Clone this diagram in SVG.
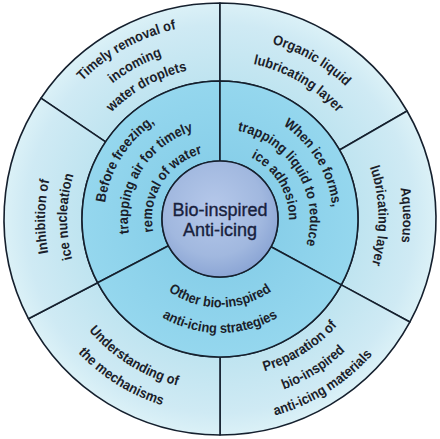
<svg xmlns="http://www.w3.org/2000/svg" width="440" height="439" viewBox="0 0 440 439">
<style>
.sec{stroke:#15202e;stroke-width:1.6;stroke-linejoin:round}
.outer{fill:url(#gOuter)}
.mid{fill:url(#gMid)}
.t{font-family:"Liberation Sans",Arial,sans-serif;font-weight:bold;font-size:14px;fill:#1b1e2a;text-anchor:middle}
.c{font-family:"Liberation Sans",Arial,sans-serif;font-size:18px;fill:#18213d;stroke:#18213d;stroke-width:0.35;text-anchor:middle}
</style>
<defs>
<radialGradient id="gOuter" gradientUnits="userSpaceOnUse" cx="220" cy="219" r="216">
<stop offset="0.64" stop-color="#bfe4f0"/>
<stop offset="0.9" stop-color="#cfeaf4"/>
<stop offset="1" stop-color="#dbf1f7"/>
</radialGradient>
<radialGradient id="gMid" gradientUnits="userSpaceOnUse" cx="220" cy="219" r="138">
<stop offset="0.42" stop-color="#88cfe9"/>
<stop offset="1" stop-color="#95d7ee"/>
</radialGradient>
<radialGradient id="gIn" cx="0.45" cy="0.4" r="0.6">
<stop offset="0" stop-color="#b5c8ea"/>
<stop offset="0.7" stop-color="#a1b8df"/>
<stop offset="1" stop-color="#8ca6d5"/>
</radialGradient>
<path id="cw195" d="M -195 0 A 195 195 0 0 1 195 0"/>
<path id="cw173" d="M -173 0 A 173 173 0 0 1 173 0"/>
<path id="cw152" d="M -152 0 A 152 152 0 0 1 152 0"/>
<path id="cw183" d="M -183 0 A 183 183 0 0 1 183 0"/>
<path id="cw159" d="M -158.5 0 A 158.5 158.5 0 0 1 158.5 0"/>
<path id="cw175" d="M -175 0 A 175 175 0 0 1 175 0"/>
<path id="cw153" d="M -153 0 A 153 153 0 0 1 153 0"/>
<path id="cw116" d="M -116 0 A 116 116 0 0 1 116 0"/>
<path id="cw92" d="M -92 0 A 92 92 0 0 1 92 0"/>
<path id="cw68" d="M -68 0 A 68 68 0 0 1 68 0"/>
<path id="cw113" d="M -113 0 A 113 113 0 0 1 113 0"/>
<path id="cw90" d="M -90 0 A 90 90 0 0 1 90 0"/>
<path id="cw69" d="M -69 0 A 69 69 0 0 1 69 0"/>
<path id="ccw171" d="M -172 0 A 172 172 0 0 0 172 0"/>
<path id="ccw194" d="M -195 0 A 195 195 0 0 0 195 0"/>
<path id="ccw158" d="M -158.5 0 A 158.5 158.5 0 0 0 158.5 0"/>
<path id="ccw181" d="M -182 0 A 182 182 0 0 0 182 0"/>
<path id="ccw203" d="M -204 0 A 204 204 0 0 0 204 0"/>
<path id="ccw89" d="M -88.5 0 A 88.5 88.5 0 0 0 88.5 0"/>
<path id="ccw112" d="M -114 0 A 114 114 0 0 0 114 0"/>
</defs>
<rect width="440" height="439" fill="#ffffff"/>

<g id="node-timely-removal">
<path class="sec outer" d="M 40.93 98.21 A 216 216 0 0 1 220 3 L 220 81 A 138 138 0 0 0 105.59 141.83 Z"/>
<g transform="translate(220 219) rotate(-29)">
<text class="t"><textPath href="#cw195" startOffset="50%" textLength="108.8" lengthAdjust="spacingAndGlyphs">Timely removal of</textPath></text>
<text class="t"><textPath href="#cw173" startOffset="50%" textLength="56.9" lengthAdjust="spacingAndGlyphs">incoming</textPath></text>
<text class="t"><textPath href="#cw152" startOffset="50%" textLength="87.5" lengthAdjust="spacingAndGlyphs">water droplets</textPath></text>
</g>
</g>

<g id="node-organic-liquid">
<path class="sec outer" d="M 220 3 A 216 216 0 0 1 407.06 111 L 339.51 150 A 138 138 0 0 0 220 81 Z"/>
<g transform="translate(220 219) rotate(30)">
<text class="t"><textPath href="#cw183" startOffset="50%" textLength="86.1" lengthAdjust="spacingAndGlyphs">Organic liquid</textPath></text>
<text class="t"><textPath href="#cw159" startOffset="50%" textLength="98.9" lengthAdjust="spacingAndGlyphs">lubricating layer</textPath></text>
</g>
</g>

<g id="node-aqueous">
<path class="sec outer" d="M 407.06 111 A 216 216 0 0 1 409.82 322.07 L 341.28 284.85 A 138 138 0 0 0 339.51 150 Z"/>
<g transform="translate(220 219) rotate(88.8)">
<text class="t"><textPath href="#cw183" startOffset="50%" textLength="54.8" lengthAdjust="spacingAndGlyphs">Aqueous</textPath></text>
<text class="t"><textPath href="#cw159" startOffset="50%" textLength="98.9" lengthAdjust="spacingAndGlyphs">lubricating layer</textPath></text>
</g>
</g>

<g id="node-preparation">
<path class="sec outer" d="M 409.82 322.07 A 216 216 0 0 1 220 435 L 220 357 A 138 138 0 0 0 341.28 284.85 Z"/>
<g transform="translate(220 219) rotate(-32)">
<text class="t"><textPath href="#ccw158" startOffset="50%" textLength="86.8" lengthAdjust="spacingAndGlyphs">Preparation of</textPath></text>
<text class="t"><textPath href="#ccw181" startOffset="50%" textLength="73.3" lengthAdjust="spacingAndGlyphs">bio-inspired</textPath></text>
<text class="t"><textPath href="#ccw203" startOffset="50%" textLength="116.7" lengthAdjust="spacingAndGlyphs">anti-icing materials</textPath></text>
</g>
</g>

<g id="node-understanding">
<path class="sec outer" d="M 220 435 A 216 216 0 0 1 28.41 318.74 L 97.59 282.72 A 138 138 0 0 0 220 357 Z"/>
<g transform="translate(220 219) rotate(32)">
<text class="t"><textPath href="#ccw171" startOffset="50%" textLength="106" lengthAdjust="spacingAndGlyphs">Understanding of</textPath></text>
<text class="t"><textPath href="#ccw194" startOffset="50%" textLength="100.3" lengthAdjust="spacingAndGlyphs">the mechanisms</textPath></text>
</g>
</g>

<g id="node-inhibition">
<path class="sec outer" d="M 28.41 318.74 A 216 216 0 0 1 40.93 98.21 L 105.59 141.83 A 138 138 0 0 0 97.59 282.72 Z"/>
<g transform="translate(220 219) rotate(-89.2)">
<text class="t"><textPath href="#cw175" startOffset="50%" textLength="73.2" lengthAdjust="spacingAndGlyphs">Inhibition of</textPath></text>
<text class="t"><textPath href="#cw153" startOffset="50%" textLength="85.4" lengthAdjust="spacingAndGlyphs">ice nucleation</textPath></text>
</g>
</g>

<g id="node-before-freezing">
<path class="sec mid" d="M 97.59 282.72 A 138 138 0 0 1 220 81 L 220 161 A 58 58 0 0 0 168.55 245.78 Z"/>
<g transform="translate(220 219) rotate(-58)">
<text class="t"><textPath href="#cw116" startOffset="50%" textLength="96.7" lengthAdjust="spacingAndGlyphs">Before freezing,</textPath></text>
<text class="t"><textPath href="#cw92" startOffset="50%" textLength="131.6" lengthAdjust="spacingAndGlyphs">trapping air for timely</textPath></text>
<text class="t"><textPath href="#cw68" startOffset="50%" textLength="101.7" lengthAdjust="spacingAndGlyphs">removal of water</textPath></text>
</g>
</g>

<g id="node-when-ice-forms">
<path class="sec mid" d="M 220 81 A 138 138 0 0 1 341.28 284.85 L 270.97 246.68 A 58 58 0 0 0 220 161 Z"/>
<g transform="translate(220 219) rotate(59)">
<text class="t"><textPath href="#cw113" startOffset="50%" textLength="98.9" lengthAdjust="spacingAndGlyphs">When ice forms,</textPath></text>
<text class="t"><textPath href="#cw90" startOffset="50%" textLength="150" lengthAdjust="spacingAndGlyphs">trapping liquid to reduce</textPath></text>
<text class="t"><textPath href="#cw69" startOffset="50%" textLength="77.5" lengthAdjust="spacingAndGlyphs">ice adhesion</textPath></text>
</g>
</g>

<g id="node-other-strategies">
<path class="sec mid" d="M 341.28 284.85 A 138 138 0 0 1 97.59 282.72 L 168.55 245.78 A 58 58 0 0 0 270.97 246.68 Z"/>
<g transform="translate(220 219)">
<text class="t"><textPath href="#ccw89" startOffset="50%" textLength="110" lengthAdjust="spacingAndGlyphs">Other bio-inspired</textPath></text>
<text class="t"><textPath href="#ccw112" startOffset="50%" textLength="121.5" lengthAdjust="spacingAndGlyphs">anti-icing strategies</textPath></text>
</g>
</g>

<g id="node-center">
<circle cx="220" cy="219" r="58" fill="url(#gIn)" stroke="#15202e" stroke-width="1.6"/>
<text class="c" x="220" y="216">Bio-inspired</text>
<text class="c" x="220" y="236">Anti-icing</text>
</g>
</svg>
